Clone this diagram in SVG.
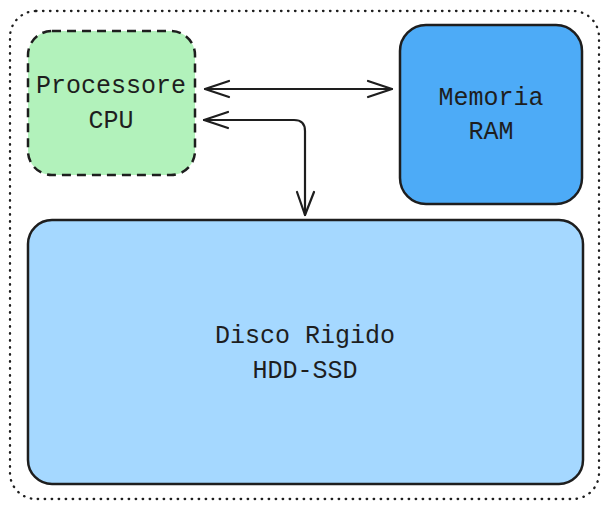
<svg xmlns="http://www.w3.org/2000/svg" width="609" height="510" viewBox="0 0 609 510">
<style>
.t{font-family:"Liberation Mono","DejaVu Sans Mono",monospace;font-size:25px;fill:#1e1e1e;text-anchor:middle}
.box{stroke:#1e1e1e;stroke-width:2.5}
.ln{fill:none;stroke:#1e1e1e;stroke-width:2.2;stroke-linecap:round;stroke-linejoin:round}
</style>
<rect width="609" height="510" fill="#ffffff"/>
<g id="container">
<rect x="10" y="11" width="589" height="488" rx="26" fill="none" stroke="#1e1e1e" stroke-width="2.3" stroke-dasharray="0.5 6.5" stroke-linecap="round"/>
</g>
<g id="cpu">
<rect class="box" x="28" y="31" width="167" height="144" rx="24" fill="#b2f2bb" stroke-dasharray="9 6"/>
<text class="t" x="111" y="93">Processore</text>
<text class="t" x="111" y="128">CPU</text>
</g>
<g id="ram">
<rect class="box" x="400" y="25" width="182" height="179" rx="26" fill="#4dabf7"/>
<text class="t" x="491" y="105">Memoria</text>
<text class="t" x="491" y="139">RAM</text>
</g>
<g id="disk">
<rect class="box" x="28" y="220" width="555" height="264" rx="24" fill="#a5d8ff"/>
<text class="t" x="305" y="343">Disco Rigido</text>
<text class="t" x="305" y="378">HDD-SSD</text>
</g>
<g id="connectors">
<path class="ln" d="M205 89 L392 89"/>
<path class="ln" d="M229 81 L205 89 L229 97"/>
<path class="ln" d="M368 81 L392 89 L368 97"/>
<path class="ln" d="M204 120 L294 120 Q305 120 305 131 L305 215"/>
<path class="ln" d="M228 112 L204 120 L228 128"/>
<path class="ln" d="M297 192 L305 215 L314 192"/>
</g>
</svg>
